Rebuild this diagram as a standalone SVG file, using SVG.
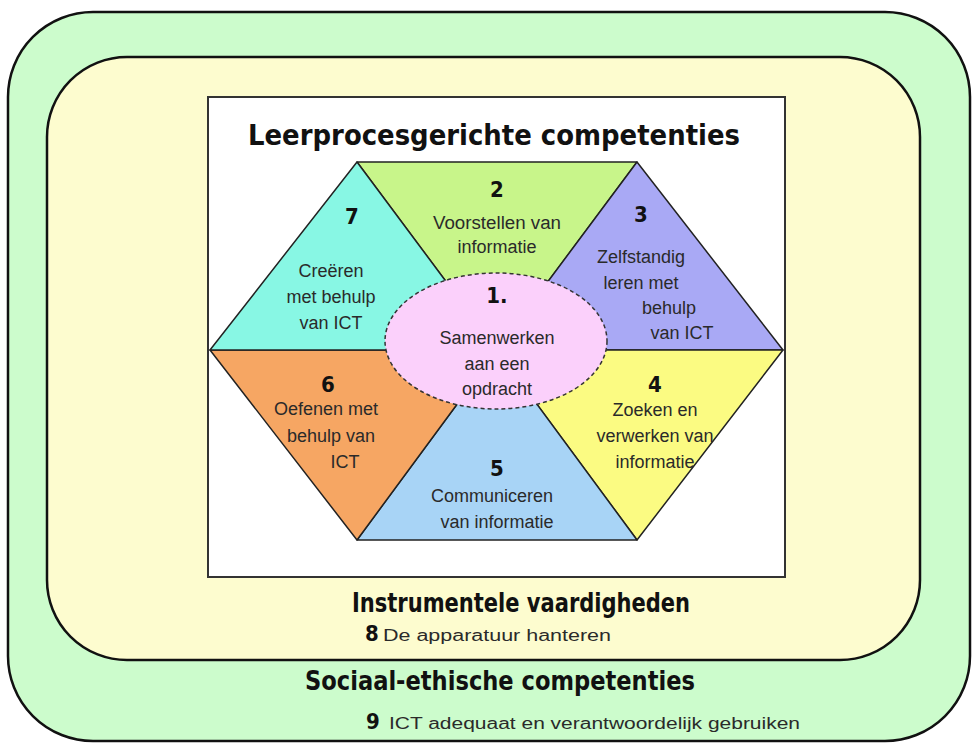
<svg xmlns="http://www.w3.org/2000/svg" width="975" height="747" viewBox="0 0 975 747">
<style>
.lbl{font-family:"Liberation Sans",Arial,sans-serif;font-size:18px;fill:#2a2a2a;text-anchor:middle}
.num{font-family:"Liberation Sans Narrow","DejaVu Sans Condensed","Liberation Sans",sans-serif;font-weight:bold;font-size:22px;fill:#111;text-anchor:middle}
.head{font-family:"Liberation Sans Narrow","DejaVu Sans Condensed","Liberation Sans",sans-serif;font-weight:bold;fill:#111;text-anchor:middle}
.sub{font-family:"Liberation Sans",Arial,sans-serif;font-size:16px;fill:#2a2a2a}
.tri{stroke:#222;stroke-width:1.5;stroke-linejoin:round}
</style>
<rect width="975" height="747" fill="#ffffff"/>
<g id="outer">
<rect x="8" y="12" width="962" height="729" rx="85" ry="85" fill="#ccfccc" stroke="#111" stroke-width="2.5"/>
<text class="head" x="500" y="690" font-size="26" textLength="390" lengthAdjust="spacingAndGlyphs">Sociaal-ethische competenties</text>
<text class="num" x="373" y="729">9</text>
<text class="sub" x="389" y="729" textLength="411" lengthAdjust="spacingAndGlyphs">ICT adequaat en verantwoordelijk gebruiken</text>
</g>
<g id="middle">
<rect x="47" y="57" width="873" height="603" rx="80" ry="80" fill="#fdfccf" stroke="#111" stroke-width="2.5"/>
<text class="head" x="521" y="612" font-size="26" textLength="338" lengthAdjust="spacingAndGlyphs">Instrumentele vaardigheden</text>
<text class="num" x="372" y="641">8</text>
<text class="sub" x="383" y="641" textLength="228" lengthAdjust="spacingAndGlyphs">De apparatuur hanteren</text>
</g>
<g id="inner">
<rect x="208" y="97" width="577" height="480" fill="#ffffff" stroke="#333" stroke-width="2"/>
<text class="head" x="494" y="145" font-size="28" textLength="492" lengthAdjust="spacingAndGlyphs">Leerprocesgerichte competenties</text>
</g>
<g id="seg2">
<polygon class="tri" points="357,162 637,162 497,350" fill="#c8f58a"/>
<text class="num" x="497" y="197">2</text>
<text class="lbl" x="497" y="229" textLength="128" lengthAdjust="spacingAndGlyphs">Voorstellen van</text>
<text class="lbl" x="497" y="253">informatie</text>
</g>
<g id="seg3">
<polygon class="tri" points="637,162 783,350 497,350" fill="#a9a9f5"/>
<text class="num" x="641" y="222">3</text>
<text class="lbl" x="641" y="263">Zelfstandig</text>
<text class="lbl" x="641" y="289">leren met</text>
<text class="lbl" x="669" y="314">behulp</text>
<text class="lbl" x="682" y="339">van  ICT</text>
</g>
<g id="seg4">
<polygon class="tri" points="783,350 637,540 497,350" fill="#fbfb82"/>
<text class="num" x="655" y="392">4</text>
<text class="lbl" x="655" y="416">Zoeken en</text>
<text class="lbl" x="655" y="442">verwerken van</text>
<text class="lbl" x="655" y="468">informatie</text>
</g>
<g id="seg5">
<polygon class="tri" points="637,540 357,540 497,350" fill="#a8d4f6"/>
<text class="num" x="497" y="476">5</text>
<text class="lbl" x="492" y="502">Communiceren</text>
<text class="lbl" x="497" y="528">van informatie</text>
</g>
<g id="seg6">
<polygon class="tri" points="357,540 210,350 497,350" fill="#f6a663"/>
<text class="num" x="328" y="392">6</text>
<text class="lbl" x="326" y="415">Oefenen met</text>
<text class="lbl" x="331" y="442">behulp van</text>
<text class="lbl" x="345" y="468">ICT</text>
</g>
<g id="seg7">
<polygon class="tri" points="210,350 357,162 497,350" fill="#88f7e4"/>
<text class="num" x="352" y="224">7</text>
<text class="lbl" x="331" y="277">Creëren</text>
<text class="lbl" x="331" y="303">met behulp</text>
<text class="lbl" x="331" y="329">van ICT</text>
</g>
<g id="seg1">
<ellipse cx="496" cy="341" rx="111" ry="68" fill="#fbd0fb" stroke="#333" stroke-width="1.5" stroke-dasharray="4 3"/>
<text class="num" x="497" y="303">1.</text>
<text class="lbl" x="497" y="344">Samenwerken</text>
<text class="lbl" x="497" y="370">aan een</text>
<text class="lbl" x="497" y="395">opdracht</text>
</g>
<g id="connectors"/>
</svg>
